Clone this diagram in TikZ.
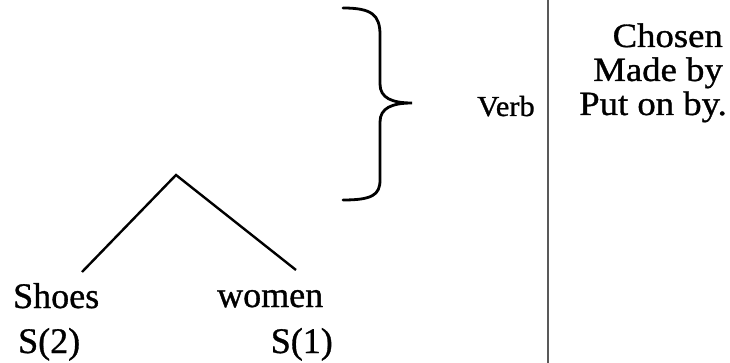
\documentclass[tikz,border=0pt]{standalone}
\usepackage{fontspec}
\usepackage{graphicx}
\setmainfont{Liberation Serif}
\newfontfamily\scanfont{Liberation Serif}[FakeBold=0.9]
\begin{document}
\begin{tikzpicture}[x=1pt,y=-1pt,
  big/.style={inner sep=0pt,font=\scanfont\fontsize{36}{34}\selectfont},
  col/.style={inner sep=0pt,font=\scanfont\fontsize{34}{34}\selectfont},
  small/.style={inner sep=0pt,font=\scanfont\fontsize{29}{30}\selectfont},
  branch/.style={line width=2.4pt,black},
  bracestroke/.style={line width=2.8pt,black,line cap=round},
  divider/.style={line width=2pt,black!65}]
\useasboundingbox (0,0) rectangle (730,363);
% tree
\coordinate (apex) at (176,175);
\coordinate (lend) at (82,272);
\coordinate (rend) at (296,270);
\draw[branch] (lend) -- (apex) -- (rend);
\node[big,anchor=base west] (shoes) at (13,308) {Shoes};
\node[big,anchor=base west] (s2) at (18,353) {S(2)};
\node[big,anchor=base west] (women) at (217,307) {women};
\node[big,anchor=base east] (s1) at (333,353) {S(1)};
% brace
\coordinate (btop) at (343,8);
\coordinate (btip) at (412,103);
\coordinate (bbot) at (343,200);
\draw[bracestroke] (btop) .. controls (372,8) and (380,15) .. (380,35)
  -- (380,84) .. controls (380,98) and (392,103) .. (btip)
  .. controls (392,103) and (380,108) .. (380,122)
  -- (380,180) .. controls (380,195) and (372,200) .. (bbot);
\node[small,anchor=base west] (verb) at (477,116) {\scalebox{1.05}[1]{Verb}};
% divider
\coordinate (dtop) at (548,0);
\coordinate (dbot) at (548,363);
\draw[divider] (dtop) -- (dbot);
% right column
\node[col,anchor=base east] (chosen) at (723,47) {\scalebox{1.08}[1]{Chosen}};
\node[col,anchor=base east] (made) at (723,81) {\scalebox{1.08}[1]{Made by}};
\node[col,anchor=base east] (put) at (727,115) {\scalebox{1.08}[1]{Put on by.}};
\end{tikzpicture}
\end{document}
